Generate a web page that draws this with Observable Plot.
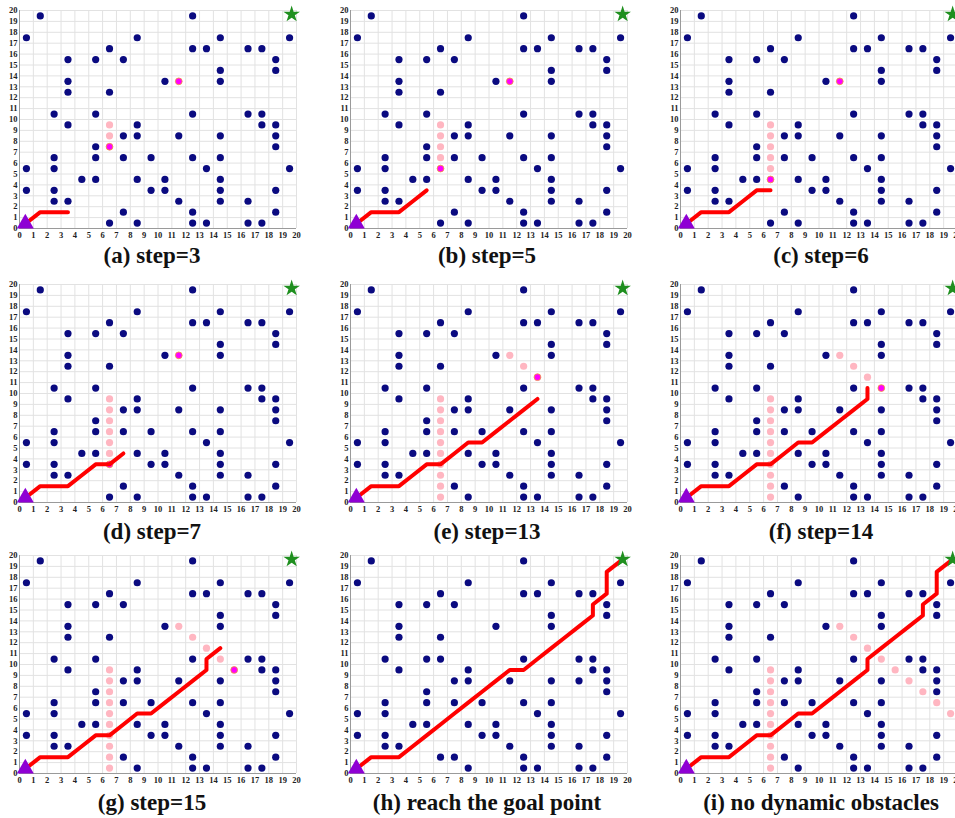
<!DOCTYPE html>
<html><head><meta charset="utf-8">
<script src="https://cdn.jsdelivr.net/npm/d3@7"></script>
<script src="https://cdn.jsdelivr.net/npm/@observablehq/plot@0.6"></script>
<style>
body{margin:0;background:#fff;width:955px;height:818px;overflow:hidden;position:relative;}
.panel{position:absolute}
.cap{position:absolute;font-family:"Liberation Serif",serif;font-weight:bold;font-size:23px;line-height:23px;white-space:nowrap;transform:translateX(-50%);color:#111}
</style></head><body>
<script>
// ---------- data ----------
const tickValues = d3.range(0, 21);
const staticObstacles = [
  [1.5,19.5],[12.5,19.5],
  [0.5,17.5],[8.5,17.5],[14.5,17.5],[19.5,17.5],
  [6.5,16.5],[12.5,16.5],[13.5,16.5],[16.5,16.5],[17.5,16.5],
  [3.5,15.5],[5.5,15.5],[7.5,15.5],[18.5,15.5],
  [14.5,14.5],[18.5,14.5],
  [3.5,13.5],[10.5,13.5],[14.5,13.5],
  [3.5,12.5],[6.5,12.5],
  [2.5,10.5],[5.5,10.5],[12.5,10.5],[16.5,10.5],[17.5,10.5],
  [3.5,9.5],[8.5,9.5],[17.5,9.5],[18.5,9.5],
  [7.5,8.5],[8.5,8.5],[11.5,8.5],[14.5,8.5],[18.5,8.5],
  [5.5,7.5],[18.5,7.5],
  [2.5,6.5],[5.5,6.5],[7.5,6.5],[9.5,6.5],[12.5,6.5],[14.5,6.5],
  [0.5,5.5],[2.5,5.5],[13.5,5.5],[19.5,5.5],
  [4.5,4.5],[5.5,4.5],[8.5,4.5],[10.5,4.5],[14.5,4.5],
  [0.5,3.5],[2.5,3.5],[9.5,3.5],[10.5,3.5],[14.5,3.5],[18.5,3.5],
  [2.5,2.5],[3.5,2.5],[11.5,2.5],[14.5,2.5],[16.5,2.5],
  [7.5,1.5],[12.5,1.5],[18.5,1.5],
  [6.5,0.5],[8.5,0.5],[12.5,0.5],[13.5,0.5],[16.5,0.5],[17.5,0.5]
];
const goalRunAdded = [[6.5,10.5],[16.5,8.5],[6.5,1.5]];
const goalRunRemoved = [[6.5,0.5]];

const dyn1Track = [[6.5,9.5],[6.5,8.5],[6.5,7.5],[6.5,6.5],[6.5,5.5],[6.5,4.5],[6.5,3.5],[6.5,2.5],[6.5,1.5],[6.5,0.5]];
const dyn2Track = [[11.5,13.5],[12.5,12.5],[13.5,11.5],[14.5,10.5],[15.5,9.5],[16.5,8.5],[17.5,7.5],[18.5,6.5],[19.5,5.5]];

const pathSteps = [[0.5,0.5],[1.5,1.5],[2.5,1.5],[3.5,1.5],[4.5,2.5],[5.5,3.5],[6.5,3.5],[7.5,4.5],[8.5,5.5],[9.5,5.5],
  [10.5,6.5],[11.5,7.5],[12.5,8.5],[13.5,9.5],[13.5,10.5],[14.5,11.5],[15.5,12.5],[16.5,13.5],[17.5,14.5],[17.5,15.5],
  [18.5,16.5],[18.5,17.5],[18.5,18.5],[19.65,19.65]];
const goalRunPath = [[0.5,0.5],[1.5,1.5],[2.5,1.5],[3.5,1.5],[4.5,2.5],[5.5,3.5],[6.5,4.5],[7.5,5.5],[8.5,6.5],[9.5,7.5],
  [10.5,8.5],[11.5,9.5],[12.5,9.5],[13.5,10.5],[14.5,11.5],[15.5,12.5],[16.5,13.5],[17.5,14.5],[17.5,15.5],
  [18.5,16.5],[18.5,17.5],[18.5,18.5],[19.65,19.65]];

const startPoint = [0.42, 0.45];
const goalPoint = [19.65, 19.65];

const captions = ["(a) step=3","(b) step=5","(c) step=6","(d) step=7","(e) step=13","(f) step=14","(g) step=15","(h) reach the goal point","(i) no dynamic obstacles"];
const stepCounts = [3,5,6,7,13,14,15,null,null];
const dyn1Shown = [3,5,6,7,10,10,10,0,10];
const dyn1Live  = [true,true,true,true,false,false,false,false,false];
const dyn2Shown = [1,1,1,1,3,4,5,0,9];
const dyn2Live  = [true,true,true,true,true,true,true,false,false];

// ---------- layout ----------
const colX = [19, 350, 680], rowY = [10, 284, 555];
const plotW = 277, plotH = 218;
const ML = 20, MR = 8, MT = 8, MB = 16;
const capCenter = [152, 487, 821], capTop = [244, 520, 791];

const NAVY = "#0a0a80", PINK = "#ffb6c1", MAGENTA = "#ff00ff", RED = "#ff0000";
const same = (p, q) => p[0] === q[0] && p[1] === q[1];

captions.forEach((cap, i) => {
  const col = i % 3, row = Math.floor(i / 3);
  let obstacles = staticObstacles;
  let path;
  if (i === 7) {
    obstacles = staticObstacles.filter(p => !goalRunRemoved.some(q => same(p, q))).concat(goalRunAdded);
    path = goalRunPath;
  } else if (stepCounts[i] == null) {
    path = pathSteps;
  } else {
    path = pathSteps.slice(0, stepCounts[i] + 1);
  }
  const t1 = dyn1Track.slice(0, dyn1Shown[i]);
  const t2 = dyn2Track.slice(0, dyn2Shown[i]);
  const pink = [], live = [];
  t1.forEach((p, k) => (dyn1Live[i] && k === t1.length - 1 ? live : pink).push(p));
  t2.forEach((p, k) => (dyn2Live[i] && k === t2.length - 1 ? live : pink).push(p));
  const dynAll = pink.concat(live);
  obstacles = obstacles.filter(p => !dynAll.some(q => same(p, q)));

  const svg = Plot.plot({
    width: ML + plotW + MR, height: MT + plotH + MB,
    marginLeft: ML, marginRight: MR, marginTop: MT, marginBottom: MB,
    x: {domain: [0, 20]}, y: {domain: [0, 20]},
    style: {fontFamily: "'Liberation Serif', serif", fontWeight: "bold", fontSize: "8.5px", color: "#222", background: "transparent", overflow: "visible"},
    marks: [
      Plot.gridX(tickValues, {stroke: "#e2e2e2", strokeOpacity: 1}),
      Plot.gridY(tickValues, {stroke: "#e2e2e2", strokeOpacity: 1}),
      Plot.ruleX([0], {stroke: "#9a9a9a"}),
      Plot.ruleY([0], {stroke: "#9a9a9a"}),
      Plot.axisX(tickValues, {tickSize: 0, tickPadding: 3, tickFormat: d => String(d)}),
      Plot.axisY(tickValues, {tickSize: 0, tickPadding: 2, tickFormat: d => String(d)}),
      Plot.dot(obstacles, {x: d => d[0], y: d => d[1], r: 3.6, fill: NAVY}),
      Plot.dot(pink, {x: d => d[0], y: d => d[1], r: 3.6, fill: PINK}),
      Plot.dot(live, {x: d => d[0], y: d => d[1], r: 3.4, fill: MAGENTA, stroke: "#f0a030", strokeWidth: 0.8}),
      Plot.line(path, {x: d => d[0], y: d => d[1], stroke: RED, strokeWidth: 4, strokeLinejoin: "round"}),
      Plot.dot([startPoint], {x: d => d[0], y: d => d[1], symbol: "triangle", r: 6.3, fill: "#8e00d4"}),
      Plot.dot([goalPoint], {x: d => d[0], y: d => d[1], symbol: "star", r: 5.2, fill: "#1f8f1f"})
    ]
  });
  svg.classList.add("panel");
  svg.style.left = (colX[col] - ML) + "px";
  svg.style.top = (rowY[row] - MT) + "px";
  document.body.appendChild(svg);

  const c = document.createElement("div");
  c.className = "cap";
  c.textContent = cap;
  c.style.left = capCenter[col] + "px";
  c.style.top = capTop[row] + "px";
  document.body.appendChild(c);
});
</script>
</body></html>
